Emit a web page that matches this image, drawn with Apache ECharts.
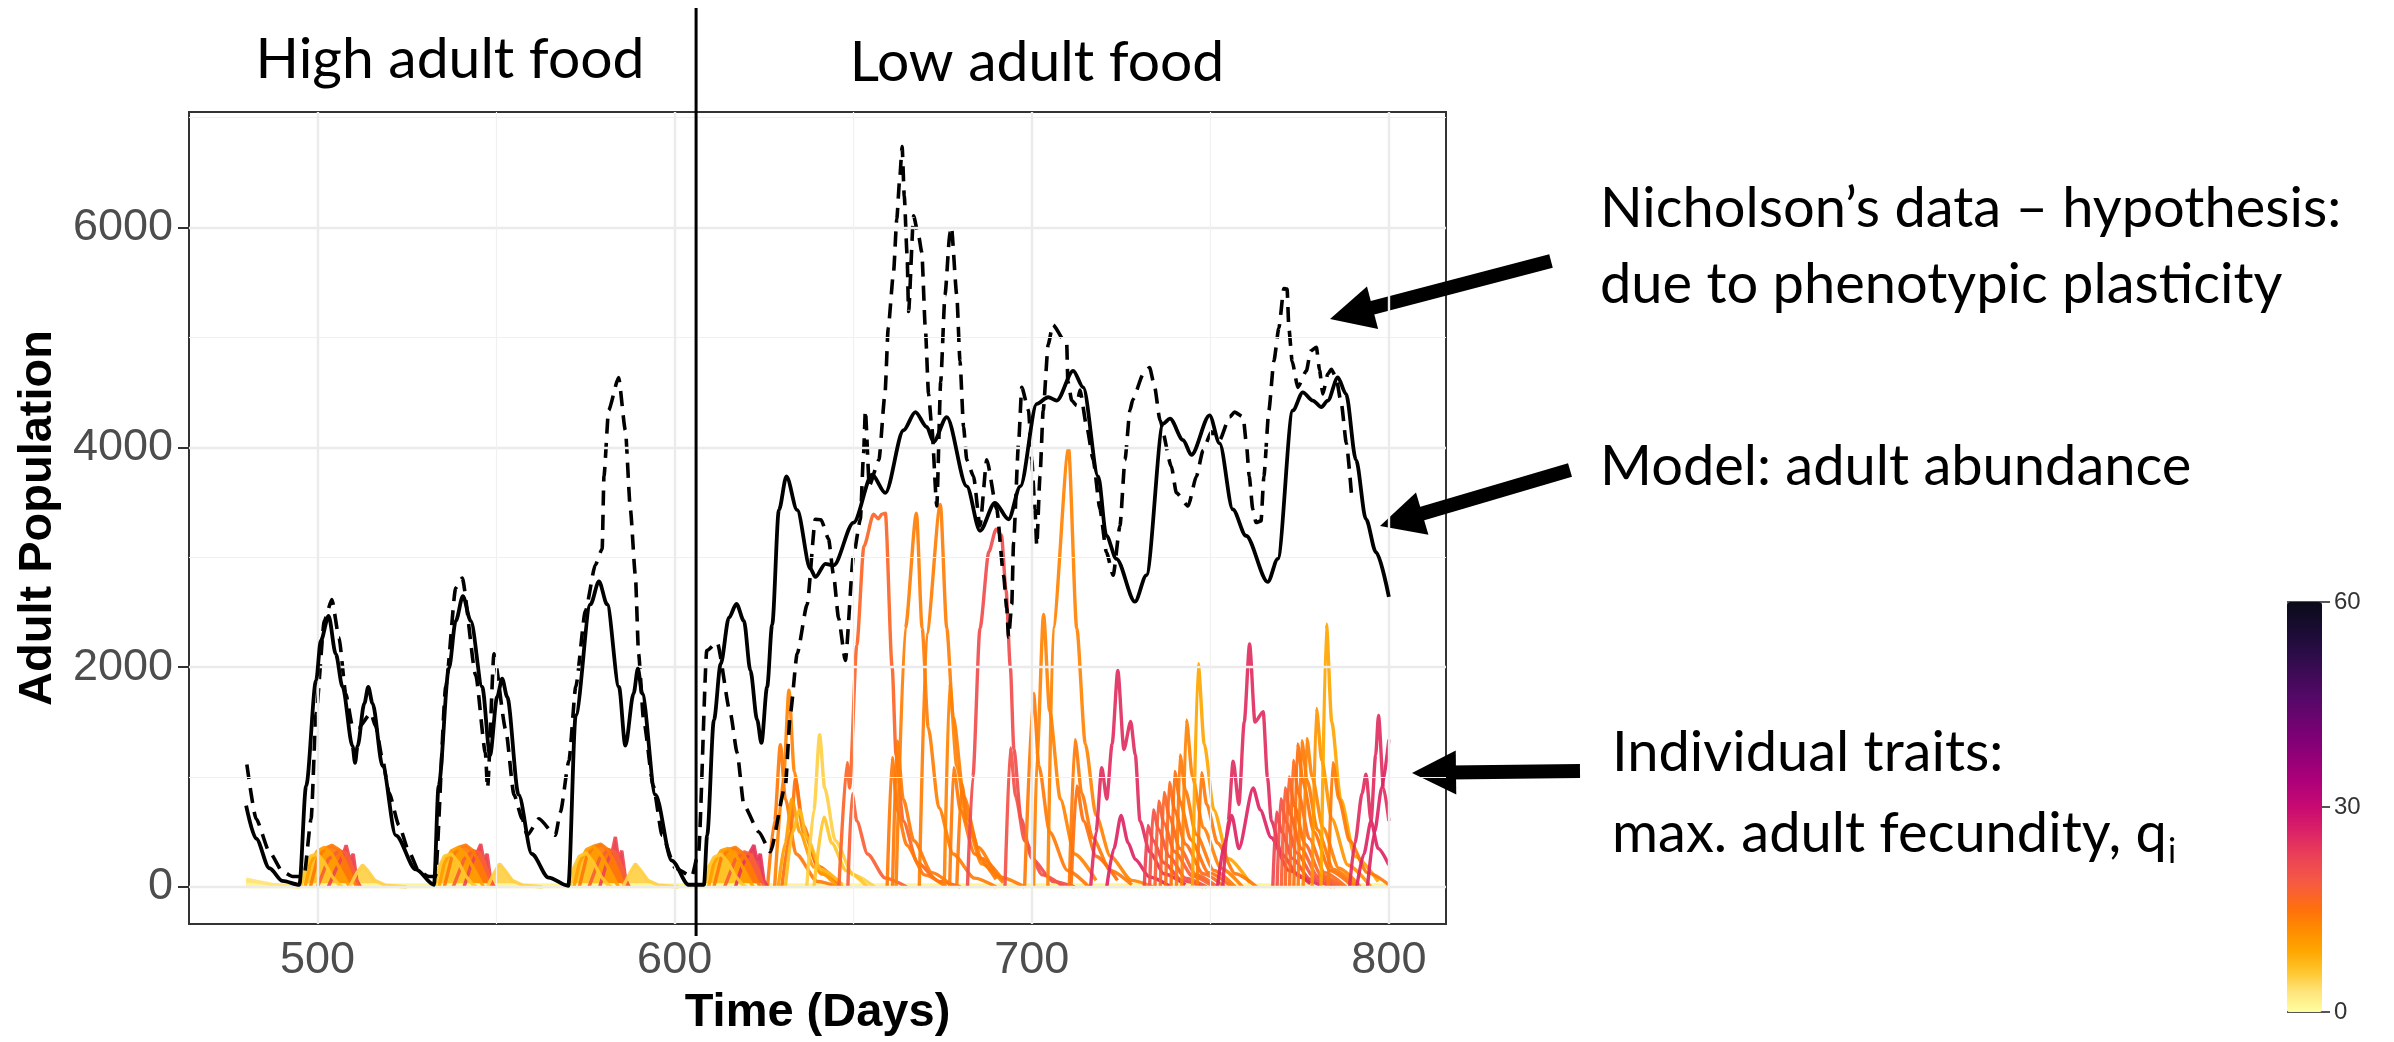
<!DOCTYPE html>
<html>
<head>
<meta charset="utf-8">
<script src="https://cdn.jsdelivr.net/npm/echarts@6/dist/echarts.min.js"></script>
<style>
  html, body { margin: 0; padding: 0; background: #fff; }
  #chart { width: 2394px; height: 1042px; }
</style>
</head>
<body>
<div id="chart"></div>
<script>
// axis ticks and grid
const xTicks = [500, 600, 700, 800]
const xMinor = [550, 650, 750]
const yTicks = [0, 2000, 4000, 6000]
const yMinor = [1000, 3000, 5000, 7000]
const colorTicks = [0, 30, 60]
const foodSwitchDay = 606

// model: adult abundance [day, adults]
const modelAdults = [
  [480.0, 740], [482.8, 440], [486.5, 170], [490.2, 55], [494.9, 20], [496.8, 920], [499.6, 1880], [500.9, 2240],
  [503.1, 2465], [505.1, 2120], [507.0, 1820], [509.8, 1280], [510.5, 1130], [511.2, 1280], [513.1, 1670], [514.2, 1820],
  [515.4, 1670], [518.2, 1100], [521.9, 470], [527.5, 160], [532.6, 20], [533.9, 920], [536.8, 1990], [538.7, 2420],
  [540.7, 2645], [542.9, 2420], [546.1, 1820], [548.3, 1200], [550.3, 1730], [551.7, 1895], [553.1, 1730], [556.3, 840],
  [560.0, 300], [564.7, 85], [570.2, 10], [572.3, 1560], [576.4, 2570], [578.8, 2780], [581.1, 2570], [584.4, 1820],
  [586.2, 1285], [588.5, 1760], [589.7, 1985], [590.9, 1760], [594.6, 840], [599.2, 240], [603.9, 20], [608.2, 20],
  [609.1, 470], [611.0, 1520], [612.9, 2030], [615.2, 2450], [617.3, 2575], [619.4, 2420], [621.2, 1970], [623.1, 1520],
  [624.3, 1310], [625.9, 1820], [627.3, 2385], [629.2, 3430], [631.3, 3735], [634.3, 3430], [638.0, 2895], [639.4, 2820],
  [642.2, 2940], [644.5, 2925], [650.1, 3315], [655.3, 3750], [659.0, 3585], [664.1, 4155], [667.4, 4320], [670.6, 4185],
  [672.5, 4050], [676.2, 4275], [681.8, 3645], [685.5, 3240], [689.7, 3495], [693.5, 3345], [696.8, 3645], [701.4, 4395],
  [704.6, 4455], [707.0, 4425], [711.6, 4695], [714.4, 4545], [718.6, 3735], [720.9, 3195], [723.7, 2985], [728.9, 2595],
  [732.1, 2835], [736.8, 4215], [738.7, 4260], [742.4, 4065], [744.7, 3930], [749.8, 4290], [752.6, 4035], [756.3, 3435],
  [760.0, 3195], [766.1, 2775], [768.9, 2985], [773.1, 4335], [775.9, 4500], [778.7, 4425], [781.1, 4365], [782.9, 4425],
  [785.7, 4635], [788.0, 4485], [790.8, 3885], [793.6, 3345], [796.4, 3045], [800.0, 2640]
]

// Nicholson's data [day, adults]
const nicholsonAdults = [
  [480.2, 1115], [482.8, 620], [486.5, 320], [490.2, 140], [493.0, 95], [496.2, 95], [498.2, 620], [499.6, 1580],
  [501.9, 2420], [504.0, 2615], [506.0, 2270], [507.9, 1760], [509.8, 1460], [511.5, 1450], [514.9, 1580], [516.3, 1460],
  [518.2, 1160], [520.0, 860], [522.8, 560], [525.6, 320], [528.4, 140], [531.2, 95], [533.0, 95], [535.9, 1820],
  [538.7, 2720], [540.5, 2810], [544.3, 1925], [547.0, 1220], [547.6, 900], [549.4, 2120], [552.7, 1430], [555.0, 840],
  [557.3, 620], [558.7, 470], [562.0, 620], [566.6, 470], [568.0, 680], [570.4, 1150], [572.3, 1820], [575.0, 2510],
  [577.8, 2930], [579.7, 3075], [580.2, 3735], [581.5, 4335], [584.3, 4635], [586.2, 4155], [587.6, 3435], [589.0, 2835],
  [589.9, 2120], [591.3, 1520], [594.0, 920], [596.5, 470], [600.2, 170], [604.8, 95], [606.7, 320], [609.0, 2150],
  [611.9, 2225], [615.6, 1580], [617.5, 1220], [619.4, 740], [623.6, 500], [626.8, 320], [631.0, 920], [632.4, 1580],
  [634.3, 2120], [637.1, 2570], [639.4, 3345], [641.0, 3340], [643.1, 3165], [644.5, 2835], [645.9, 2445], [647.8, 2060],
  [650.1, 3020], [652.0, 3345], [652.9, 3945], [653.4, 4335], [654.5, 3650], [657.2, 3885], [658.9, 4485], [659.8, 5085],
  [661.3, 5595], [662.2, 6075], [663.0, 6435], [663.7, 6735], [664.3, 6285], [665.1, 5745], [665.5, 5235], [666.9, 6105],
  [668.3, 5925], [669.2, 5775], [670.2, 5085], [671.1, 4485], [672.0, 4185], [673.4, 3465], [674.5, 4600], [675.7, 5385],
  [677.1, 5955], [677.5, 6000], [679.0, 5385], [679.9, 4785], [680.9, 4185], [681.8, 3885], [683.7, 3735], [685.5, 3285],
  [687.4, 3885], [690.2, 3435], [692.1, 2835], [693.0, 2535], [693.5, 2270], [694.4, 2570], [694.9, 3135], [696.3, 4035],
  [697.2, 4545], [699.1, 4335], [700.0, 3885], [700.9, 3435], [701.4, 3105], [702.3, 3735], [703.2, 4335], [704.6, 4935],
  [705.9, 5115], [709.8, 4935], [710.1, 4600], [711.2, 4425], [712.6, 4380], [713.5, 4520], [715.4, 4185], [717.2, 3885],
  [719.1, 3435], [720.9, 3045], [722.8, 2835], [724.7, 3285], [726.1, 3885], [727.5, 4335], [728.3, 4435], [731.2, 4665],
  [733.0, 4725], [734.4, 4550], [735.9, 4245], [739.1, 3825], [740.5, 3585], [743.8, 3465], [746.1, 3735], [748.0, 3975],
  [750.3, 4140], [752.6, 4065], [755.4, 4275], [756.8, 4320], [759.2, 4275], [760.1, 4035], [760.9, 3735], [761.9, 3435],
  [762.8, 3315], [764.2, 3330], [765.0, 3735], [766.4, 4335], [767.8, 4785], [769.2, 5085], [770.6, 5445], [771.5, 5440],
  [772.0, 5085], [772.9, 4785], [774.5, 4545], [776.9, 4695], [778.1, 4875], [779.7, 4910], [780.6, 4700], [781.5, 4485],
  [782.9, 4665], [783.9, 4710], [785.2, 4635], [786.7, 4395], [788.1, 4035], [789.5, 3585]
]

// individual traits: [q, [[day, adults], ...]]
const baselineTrait = [1, [[480, 12], [800, 12]]]

// dense small fans (drawn filled), red first, yellow on top
const fanTraits = [
  [3, [[480, 70], [483, 50], [487, 25], [492, 8], [495, 0]]],
  [22, [[503, 0], [505, 150], [507, 280], [508, 380], [509, 250], [510, 300], [511, 60], [512, 0]]],
  [18, [[500, 0], [503, 250], [506, 330], [508, 310], [510, 160], [511.5, 0]]],
  [14, [[498, 0], [500, 260], [502, 350], [504, 380], [506, 340], [508, 210], [510, 60], [511, 0]]],
  [10, [[496.5, 0], [498, 220], [500, 330], [502, 360], [504, 300], [506, 180], [508, 60], [509, 0]]],
  [6, [[495.3, 0], [496.5, 180], [498, 280], [500, 300], [502, 220], [504, 100], [506, 20], [507, 0]]],
  [5, [[509, 0], [511, 130], [512.6, 200], [514, 150], [516, 60], [519, 15], [525, 0]]],
  [22, [[541, 0], [543, 200], [544.5, 300], [545.7, 390], [546.5, 250], [547.5, 300], [548.5, 60], [549.5, 0]]],
  [18, [[538, 0], [541, 250], [543.5, 330], [545.5, 310], [547.5, 160], [549, 0]]],
  [14, [[535.5, 0], [537.5, 260], [539.5, 360], [541.5, 380], [543.5, 330], [545.5, 210], [547.5, 60], [548.5, 0]]],
  [10, [[534, 0], [535.5, 220], [537.5, 330], [539.5, 360], [541.5, 300], [543.5, 180], [545.5, 60], [546.5, 0]]],
  [6, [[532.8, 0], [534, 180], [535.5, 280], [537.5, 300], [539.5, 220], [541.5, 100], [543.5, 20], [544.5, 0]]],
  [5, [[547.5, 0], [549.5, 130], [551, 210], [552.5, 150], [554.5, 60], [557.5, 15], [563, 0]]],
  [22, [[579, 0], [581, 220], [582.5, 320], [583.4, 455], [584.3, 250], [585.2, 330], [586.3, 60], [587.3, 0]]],
  [18, [[576, 0], [579, 260], [581.5, 340], [583.5, 310], [585.5, 160], [587, 0]]],
  [14, [[573.3, 0], [575.3, 270], [577.3, 370], [579.3, 390], [581.3, 340], [583.3, 210], [585.3, 60], [586.3, 0]]],
  [10, [[571.8, 0], [573.3, 220], [575.3, 340], [577.3, 370], [579.3, 300], [581.3, 180], [583.3, 60], [584.3, 0]]],
  [6, [[570.6, 0], [571.8, 180], [573.3, 280], [575.3, 310], [577.3, 220], [579.3, 100], [581.3, 20], [582.3, 0]]],
  [5, [[585.5, 0], [587.5, 130], [589, 210], [590.5, 150], [592.5, 60], [595.5, 15], [601, 0]]],
  [24, [[617, 0], [619, 200], [620.5, 280], [622.2, 380], [623, 250], [624, 300], [625, 60], [626, 0]]],
  [18, [[614, 0], [617, 250], [619.5, 320], [621.5, 290], [623.5, 150], [625, 0]]],
  [14, [[611, 0], [613, 260], [615, 340], [617, 360], [619, 310], [621, 200], [623, 60], [624, 0]]],
  [10, [[609.5, 0], [611, 220], [613, 330], [615, 350], [617, 300], [619, 180], [621, 60], [622, 0]]],
  [6, [[608, 0], [609.5, 180], [611, 270], [613, 300], [615, 220], [617, 100], [619, 20], [620, 0]]]
]

// spikes after the switch to low adult food
const spikeTraits = [
  [14, [[626, 0], [628, 600], [629.6, 1295], [631, 800], [634, 300], [640, 50], [646, 0]]],
  [13, [[628, 0], [630.5, 1000], [632, 1790], [633.5, 1050], [636, 500], [641, 120], [647, 0]]],
  [15, [[630, 0], [632.5, 500], [633.8, 980], [636, 560], [640, 190], [646, 30]]],
  [10, [[629, 0], [631, 400], [632.8, 800], [635, 500], [639, 180], [645, 20]]],
  [7, [[631, 0], [633, 500], [635, 700], [637, 450], [641, 160], [647, 20]]],
  [5, [[637, 0], [639, 700], [640.6, 1385], [642, 900], [645, 420], [650, 110], [656, 0]]],
  [6, [[639, 0], [641.8, 635], [644, 400], [648, 150], [654, 0]]],
  [17, [[646, 0], [648.3, 1130], [649, 900], [651, 2200], [653, 3100], [655.7, 3390], [657, 3350], [658, 3390], [659, 3400], [660.9, 2000], [662, 1200], [664, 600], [668, 220], [674, 50], [680, 0]]],
  [18, [[648.5, 0], [649.7, 845], [651, 600], [654, 300], [659, 80], [665, 0]]],
  [14, [[659.5, 0], [660.9, 1175], [662.3, 700], [665, 380], [670, 110], [676, 0]]],
  [14, [[661, 0], [662.3, 1325], [664, 800], [667, 420], [672, 130], [678, 0]]],
  [13.5, [[662, 0], [664.6, 2354], [667.7, 3400], [669.3, 2354], [671, 1450], [674, 720], [678, 300], [684, 80], [690, 0]]],
  [13.5, [[668.5, 0], [670.6, 2300], [674.4, 3480], [676.2, 2354], [678, 1550], [681, 820], [685, 360], [691, 90], [698, 0]]],
  [13, [[675.5, 0], [677, 1850], [679, 1100], [682, 560], [686, 210], [692, 40]]],
  [14, [[677, 0], [678.1, 1085], [680, 700], [684, 300], [690, 70]]],
  [14, [[679, 0], [680.4, 935], [682, 620], [686, 260], [692, 60]]],
  [21, [[682, 0], [683.5, 1000], [685.5, 2354], [688, 3050], [690, 3254], [691.5, 3200], [692.8, 2700], [694, 2000], [695, 1250], [697, 620], [700, 260], [706, 50], [712, 0]]],
  [20, [[692.5, 0], [694, 1265], [695.5, 820], [698, 420], [703, 110], [709, 0]]],
  [14, [[698, 0], [700.5, 1760], [702, 1100], [705, 500], [710, 150], [716, 0]]],
  [13, [[700.5, 0], [701.5, 1200], [703.3, 2480], [705, 1600], [708, 800], [712, 300], [718, 60]]],
  [13, [[704.5, 0], [706, 2354], [710.3, 3990], [712.6, 2354], [715, 1300], [718, 650], [722, 280], [728, 60], [734, 0]]],
  [14, [[710.5, 0], [712.1, 1340], [714, 850], [717, 450], [722, 150], [728, 20]]],
  [15, [[711, 0], [712.6, 920], [714.5, 600], [718, 280], [724, 60]]],
  [25, [[716.5, 0], [718, 500], [719.6, 1085], [721, 800], [722.5, 1300], [724.1, 1970], [725.8, 1250], [727.7, 1505], [729, 1200], [730.3, 600], [733, 320], [737, 120], [743, 20]]],
  [26, [[721, 0], [723, 350], [725, 650], [727, 400], [729, 250], [733, 90], [739, 0]]],
  [22, [[731.5, 0], [732.5, 560], [734, 420], [737, 220], [742, 60], [748, 0]]],
  [20, [[733, 0], [734, 700], [735.5, 520], [738.5, 280], [743, 80], [749, 0]]],
  [18, [[734.5, 0], [735.5, 780], [737, 580], [740, 320], [745, 100], [751, 0]]],
  [17, [[736, 0], [737, 860], [738.5, 640], [741.5, 350], [746, 110], [752, 0]]],
  [16, [[737.5, 0], [738.5, 950], [740, 700], [743, 390], [748, 120], [754, 0]]],
  [15, [[739, 0], [740, 1050], [741.5, 780], [744.5, 430], [749.5, 130], [756, 0]]],
  [14, [[740.5, 0], [741.5, 1200], [743, 880], [746, 480], [751, 150], [757, 0]]],
  [13, [[742, 0], [743.3, 1520], [745, 1000], [748, 540], [753, 170], [759, 0]]],
  [9, [[745, 0], [746.6, 2030], [748.3, 1300], [751, 700], [755, 260], [761, 40]]],
  [14, [[746.3, 0], [747.5, 1040], [749, 750], [752, 400], [757, 120], [763, 0]]],
  [26, [[752, 0], [754, 400], [756, 650], [758, 350], [762, 900], [764, 700], [767, 450], [772, 150], [778, 30]]],
  [25, [[753.5, 0], [755, 600], [756.4, 1145], [758, 750], [759.5, 1500], [761, 2210], [762.5, 1500], [764.8, 1595], [766, 1000], [767.1, 600], [770, 300], [775, 90], [781, 10]]],
  [22, [[767.5, 0], [768.5, 680], [770, 500], [773, 260], [778, 70], [784, 0]]],
  [20, [[768.7, 0], [769.7, 800], [771.2, 590], [774.2, 310], [779, 90], [785, 0]]],
  [18, [[769.9, 0], [770.9, 900], [772.4, 660], [775.4, 350], [780, 100], [786, 0]]],
  [17, [[771, 0], [772, 1000], [773.5, 740], [776.5, 390], [781, 110], [787, 0]]],
  [16, [[772.2, 0], [773.2, 1150], [774.7, 850], [777.7, 440], [782, 130], [788, 0]]],
  [15, [[773.4, 0], [774.4, 1300], [776, 950], [779, 500], [783.5, 150], [790, 0]]],
  [14, [[774.6, 0], [775.6, 1330], [777.1, 970], [780, 520], [784.5, 160], [791, 0]]],
  [13, [[776, 0], [777, 1350], [778.5, 1000], [781.5, 540], [786, 170], [792, 0]]],
  [11, [[778.5, 0], [779.7, 1625], [781.2, 1150], [784, 620], [788.5, 200], [795, 0]]],
  [9, [[781, 0], [782.5, 2390], [784, 1500], [786.5, 800], [790.5, 280], [797, 50]]],
  [14, [[783, 0], [784.3, 1130], [786, 800], [789, 420], [794, 130], [800, 20]]],
  [26, [[791, 0], [793, 300], [795, 600], [797, 350], [800, 200]]],
  [25, [[789, 0], [790.5, 400], [792.5, 850], [793.6, 1025], [795, 600], [796.3, 1200], [797.1, 1560], [798.5, 900], [800, 600]]],
  [26, [[794, 0], [796, 500], [798, 900], [800, 1340]]]
]

// colour scale of max. adult fecundity (0 .. 60)
const fecundityStops = [
  [0, '#FFFFA0'], [3, '#FFE47A'], [6, '#FFC52A'], [9, '#FFA600'], [12, '#FF8C00'], [15, '#FF700C'],
  [19, '#F65A42'], [23, '#EA3F58'], [27, '#D81E68'], [30, '#C80A72'], [34, '#AC007A'], [40, '#800075'],
  [46, '#550868'], [52, '#2E0C4A'], [56, '#1A0C33'], [60, '#0A0A18']
]

function hexRgb (h) {
  return [1, 3, 5].map(i => parseInt(h.slice(i, i + 2), 16))
}

function qColor (q) {
  for (let i = 1; i < fecundityStops.length; i++) {
    const [q0, c0] = fecundityStops[i - 1]
    const [q1, c1] = fecundityStops[i]
    if (q <= q1) {
      const t = (q - q0) / (q1 - q0)
      const a = hexRgb(c0)
      const b = hexRgb(c1)
      return 'rgb(' + a.map((v, k) => Math.round(v + (b[k] - v) * t)).join(',') + ')'
    }
  }
  return fecundityStops[fecundityStops.length - 1][1]
}

const chart = echarts.init(document.getElementById('chart'))

const gridColor = '#EBEBEB'
const gridLines = [
  ...yTicks.map(v => ({ yAxis: v, lineStyle: { width: 2.4, color: gridColor, type: 'solid' } })),
  ...yMinor.map(v => ({ yAxis: v, lineStyle: { width: 1.2, color: '#F0F0F0', type: 'solid' } })),
  ...xTicks.map(v => ({ xAxis: v, lineStyle: { width: 2.4, color: gridColor, type: 'solid' } })),
  ...xMinor.map(v => ({ xAxis: v, lineStyle: { width: 1.2, color: '#F0F0F0', type: 'solid' } }))
]

function traitSeries (t, filled) {
  const c = qColor(t[0])
  const s = {
    type: 'line',
    data: t[1],
    symbol: 'none',
    silent: true,
    z: 2,
    lineStyle: { color: c, width: 3.4, opacity: 0.92 }
  }
  if (filled) s.areaStyle = { color: c, opacity: 0.92 }
  else {
    s.smooth = 0.25
    s.smoothMonotone = 'x'
  }
  return s
}

const series = [
  {
    type: 'line',
    data: [],
    z: 1,
    silent: true,
    markLine: { silent: true, symbol: ['none', 'none'], label: { show: false }, animation: false, data: gridLines }
  },
  { type: 'scatter', data: [], silent: true },
  Object.assign(traitSeries(baselineTrait, false), { lineStyle: { color: qColor(1), width: 5 } }),
  ...spikeTraits.map(t => traitSeries(t, false)),
  ...fanTraits.map(t => traitSeries(t, true)),
  {
    type: 'line',
    data: nicholsonAdults,
    symbol: 'none',
    z: 4,
    smooth: 0.2,
    smoothMonotone: 'x',
    lineStyle: { color: '#000', width: 3.6, type: [15, 9] }
  },
  {
    type: 'line',
    data: modelAdults,
    symbol: 'none',
    z: 5,
    smooth: 0.3,
    smoothMonotone: 'x',
    lineStyle: { color: '#000', width: 3.8 }
  }
]

const tickFont = 'Liberation Sans, Arial, Helvetica, sans-serif'

chart.setOption({
  animation: false,
  backgroundColor: '#fff',
  grid: { left: 189, right: 948, top: 112, bottom: 110, show: true, borderColor: '#333', borderWidth: 2, backgroundColor: 'transparent' },
  xAxis: {
    type: 'value',
    min: 464,
    max: 816,
    axisLine: { show: false },
    splitLine: { show: false },
    axisTick: { show: true, customValues: xTicks, length: 11, lineStyle: { color: '#333', width: 2 } },
    axisLabel: { customValues: xTicks, fontSize: 45, color: '#4D4D4D', margin: 14, fontFamily: tickFont, formatter: v => String(v) },
    name: 'Time (Days)',
    nameLocation: 'middle',
    nameGap: 66,
    nameTextStyle: { fontSize: 47, fontWeight: 'bold', color: '#000', fontFamily: tickFont }
  },
  yAxis: {
    type: 'value',
    min: -337,
    max: 7050,
    axisLine: { show: false },
    splitLine: { show: false },
    axisTick: { show: true, customValues: yTicks, length: 11, lineStyle: { color: '#333', width: 2 } },
    axisLabel: { customValues: yTicks, fontSize: 45, color: '#4D4D4D', margin: 16, fontFamily: tickFont, formatter: v => String(v) },
    name: 'Adult Population',
    nameLocation: 'middle',
    nameRotate: 90,
    nameGap: 126,
    nameTextStyle: { fontSize: 47, fontWeight: 'bold', color: '#000', fontFamily: tickFont }
  },
  visualMap: {
    type: 'continuous',
    seriesIndex: 1,
    min: 0,
    max: 60,
    orient: 'vertical',
    left: 2287,
    top: 602,
    padding: 0,
    itemWidth: 35,
    itemHeight: 410,
    calculable: false,
    hoverLink: false,
    text: null,
    inRange: { color: Array.from({ length: 61 }, (_, i) => qColor(i)) }
  },
  series
})

// annotations
const textFont = 'Lato, "Open Sans", sans-serif'

function arrow (x1, y1, x2, y2) {
  const len = Math.hypot(x2 - x1, y2 - y1)
  const ux = (x2 - x1) / len
  const uy = (y2 - y1) / len
  const bx = x2 - ux * 44
  const by = y2 - uy * 44
  return [
    { type: 'line', shape: { x1, y1, x2: bx + ux * 6, y2: by + uy * 6 }, style: { stroke: '#000', lineWidth: 14 } },
    { type: 'polygon', shape: { points: [[x2, y2], [bx - uy * 22, by + ux * 22], [bx + uy * 22, by - ux * 22]] }, style: { fill: '#000' } }
  ]
}

function label (text, x, y, size, align) {
  return { type: 'text', x, y, style: { text, font: size + 'px ' + textFont, fill: '#000', align: align || 'left', verticalAlign: 'middle' } }
}

const switchX = chart.convertToPixel({ xAxisIndex: 0 }, foodSwitchDay)

const noteSize = 56
const ctx = document.createElement('canvas').getContext('2d')
ctx.font = noteSize + 'px Lato'
const fecText = 'max. adult fecundity, q'
const fecWidth = ctx.measureText(fecText).width

const barTop = 602
const barH = 410
const colorbarEls = []
colorTicks.forEach(v => {
  const y = barTop + barH * (1 - v / 60)
  colorbarEls.push({ type: 'line', shape: { x1: 2322, y1: y, x2: 2330, y2: y }, style: { stroke: '#555', lineWidth: 2 } })
  colorbarEls.push({ type: 'text', x: 2334, y, style: { text: String(v), font: '24px ' + tickFont, fill: '#333', verticalAlign: 'middle' } })
})
colorbarEls.push({ type: 'line', shape: { x1: 2287, y1: barTop, x2: 2322, y2: barTop }, style: { stroke: '#555', lineWidth: 2 } })
colorbarEls.push({ type: 'line', shape: { x1: 2287, y1: barTop + barH, x2: 2322, y2: barTop + barH }, style: { stroke: '#555', lineWidth: 2 } })

chart.setOption({
  graphic: {
    elements: [
      { type: 'line', z: 10, shape: { x1: switchX, y1: 8, x2: switchX, y2: 936 }, style: { stroke: '#000', lineWidth: 3 } },
      label('High adult food', 450, 60, 57, 'center'),
      label('Low adult food', 1037, 63, 57, 'center'),
      label('Nicholson’s data – hypothesis:', 1600, 209, noteSize),
      label('due to phenotypic plasticity', 1600, 285, noteSize),
      label('Model: adult abundance', 1600, 467, noteSize),
      label('Individual traits:', 1612, 753, noteSize),
      label(fecText, 1612, 834, noteSize),
      { type: 'text', x: 1612 + fecWidth + 1, y: 852, style: { text: 'i', font: '34px ' + textFont, fill: '#000', verticalAlign: 'middle' } },
      ...arrow(1551, 261, 1330, 319),
      ...arrow(1570, 470, 1380, 526),
      ...arrow(1580, 771, 1412, 773),
      ...colorbarEls
    ]
  }
})
</script>
</body>
</html>
